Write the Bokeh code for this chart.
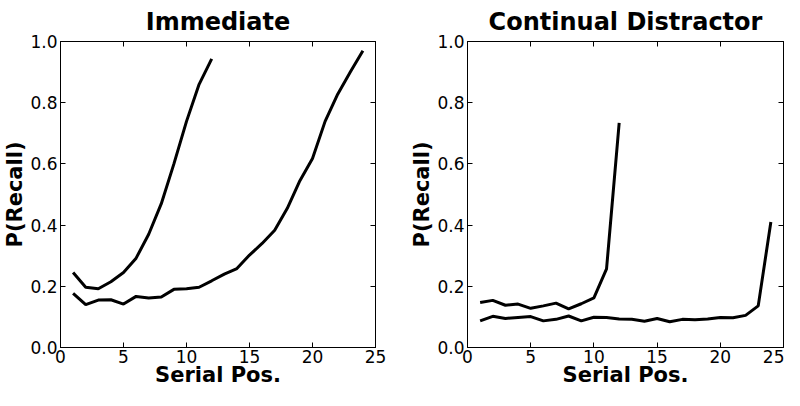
from bokeh.plotting import figure
from bokeh.layouts import row
from bokeh.models import LinearAxis, FixedTicker, PrintfTickFormatter, Range1d, CustomJSTickFormatter
from bokeh.embed import file_html
from bokeh.resources import INLINE

# ---- data ----
pos_12 = list(range(1, 13))
pos_24 = list(range(1, 25))

immediate_12 = [0.245, 0.197, 0.192, 0.215, 0.245, 0.292, 0.37, 0.47, 0.60, 0.739, 0.86, 0.943]
immediate_24 = [0.177, 0.14, 0.155, 0.156, 0.142, 0.167, 0.162, 0.165, 0.19, 0.192, 0.197, 0.218,
                0.24, 0.258, 0.302, 0.34, 0.383, 0.455, 0.545, 0.618, 0.739, 0.828, 0.90, 0.97]

distractor_12 = [0.147, 0.154, 0.138, 0.142, 0.128, 0.136, 0.145, 0.126, 0.143, 0.162, 0.257, 0.734]
distractor_24 = [0.087, 0.102, 0.095, 0.098, 0.101, 0.087, 0.092, 0.103, 0.087, 0.099, 0.098, 0.093,
                 0.092, 0.086, 0.095, 0.084, 0.092, 0.091, 0.093, 0.098, 0.097, 0.105, 0.136, 0.41]

x_ticks = [0, 5, 10, 15, 20, 25]
y_ticks = [0.0, 0.2, 0.4, 0.6, 0.8, 1.0]

FONT = "DejaVu Sans"


def style_axis(ax, labels=True):
    ax.axis_line_color = "black"
    ax.axis_line_width = 1
    ax.major_tick_in = 5
    ax.major_tick_out = 0
    ax.major_tick_line_color = "black"
    ax.minor_tick_line_color = None
    if labels:
        ax.major_label_text_font = FONT
        ax.major_label_text_font_size = "17px"
        ax.major_label_text_color = "black"
        ax.major_label_standoff = 3
    else:
        ax.formatter = CustomJSTickFormatter(code="return ''")
        ax.major_label_text_font_size = "1px"
        ax.major_label_standoff = 0


def make_panel(title, s12, s24, width, border_left, border_right):
    p = figure(width=width, height=390, output_backend="svg", toolbar_location=None,
               x_range=Range1d(0, 25), y_range=Range1d(0, 1),
               min_border_left=border_left, min_border_right=border_right,
               min_border_top=39, min_border_bottom=43)
    p.title.text = title
    p.title.align = "center"
    p.title.text_font = FONT
    p.title.text_font_size = "24px"
    p.title.text_font_style = "bold"
    p.title.text_color = "black"
    p.title.standoff = 11
    p.grid.visible = False
    p.outline_line_color = "black"
    p.background_fill_color = "white"
    p.border_fill_color = "white"

    p.line(pos_12, s12, line_color="black", line_width=3)
    p.line(pos_24, s24, line_color="black", line_width=3)

    p.xaxis.ticker = FixedTicker(ticks=x_ticks)
    p.yaxis.ticker = FixedTicker(ticks=y_ticks)
    p.yaxis.formatter = PrintfTickFormatter(format="%.1f")
    for ax in p.xaxis + p.yaxis:
        style_axis(ax)
        ax.axis_label_text_font = FONT
        ax.axis_label_text_font_size = "21px"
        ax.axis_label_text_font_style = "bold"
        ax.axis_label_text_color = "black"
    p.xaxis.axis_label = "Serial Pos."
    p.xaxis.axis_label_standoff = -3
    p.xaxis.major_label_standoff = 2
    p.yaxis.axis_label = "P(Recall)"
    p.yaxis.axis_label_standoff = 0

    top = LinearAxis(ticker=FixedTicker(ticks=x_ticks))
    style_axis(top, labels=False)
    p.add_layout(top, "above")
    right = LinearAxis(ticker=FixedTicker(ticks=y_ticks))
    style_axis(right, labels=False)
    p.add_layout(right, "right")
    return p


p1 = make_panel("Immediate", immediate_12, immediate_24, 405, 58, 30)
p2 = make_panel("Continual Distractor", distractor_12, distractor_24, 379, 62, 1)

layout = row(p1, p2)
open("out.html", "w").write(file_html(layout, INLINE))
